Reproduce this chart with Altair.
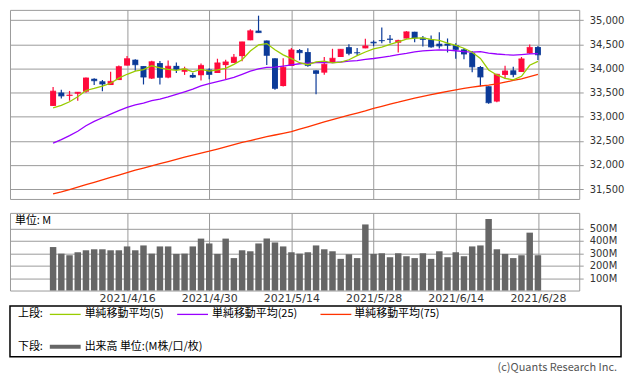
import altair as alt
import numpy as np
import pandas as pd

# ---------------- data ----------------
dates = [
    "2021/4/5", "2021/4/6", "2021/4/7", "2021/4/8", "2021/4/9",
    "2021/4/12", "2021/4/13", "2021/4/14", "2021/4/15", "2021/4/16",
    "2021/4/19", "2021/4/20", "2021/4/21", "2021/4/22", "2021/4/23",
    "2021/4/26", "2021/4/27", "2021/4/28", "2021/4/29", "2021/4/30",
    "2021/5/3", "2021/5/4", "2021/5/5", "2021/5/6", "2021/5/7",
    "2021/5/10", "2021/5/11", "2021/5/12", "2021/5/13", "2021/5/14",
    "2021/5/17", "2021/5/18", "2021/5/19", "2021/5/20", "2021/5/21",
    "2021/5/24", "2021/5/25", "2021/5/26", "2021/5/27", "2021/5/28",
    "2021/6/1", "2021/6/2", "2021/6/3", "2021/6/4", "2021/6/7",
    "2021/6/8", "2021/6/9", "2021/6/10", "2021/6/11", "2021/6/14",
    "2021/6/15", "2021/6/16", "2021/6/17", "2021/6/18", "2021/6/21",
    "2021/6/22", "2021/6/23", "2021/6/24", "2021/6/25", "2021/6/28",
]

open_ = [
    33222, 33500, 33430, 33475, 33517, 33785, 33733, 33655, 33758, 34058,
    34180, 34048, 33789, 34110, 33809, 34052, 33930, 33864, 33858, 33976,
    33904, 34068, 34114, 34254, 34582, 34782, 34580, 34209, 33634, 34050,
    34380, 34338, 33960, 33912, 34117, 34236, 34440, 34330, 34415, 34552,
    34584, 34614, 34531, 34618, 34759, 34635, 34600, 34511, 34512, 34483,
    34394, 34325, 34029, 33630, 33313, 33864, 33960, 33926, 34311, 34442,
]
high = [
    33617, 33555, 33533, 33510, 33810, 33795, 33758, 33928, 34061, 34256,
    34190, 34048, 34158, 34153, 34164, 34120, 34035, 33910, 34100, 34002,
    34200, 34180, 34300, 34552, 34811, 35092, 34580, 34209, 34211, 34423,
    34400, 34418, 33960, 34235, 34406, 34400, 34500, 34420, 34612, 34580,
    34849, 34690, 34593, 34772, 34759, 34670, 34680, 34748, 34620, 34522,
    34420, 34360, 34050, 33630, 33891, 34054, 34033, 34236, 34493, 34462,
]
low = [
    33222, 33375, 33330, 33330, 33496, 33657, 33528, 33655, 33758, 34058,
    33950, 33667, 33780, 33668, 33795, 33905, 33865, 33800, 33750, 33774,
    33904, 33774, 34114, 34150, 34582, 34740, 34070, 33560, 33623, 34050,
    34170, 34034, 33464, 33870, 34117, 34236, 34270, 34274, 34415, 34460,
    34520, 34522, 34329, 34618, 34544, 34452, 34430, 34412, 34330, 34202,
    34190, 33920, 33628, 33270, 33300, 33780, 33817, 33926, 34300, 34175,
]
close = [
    33527, 33430, 33446, 33504, 33801, 33746, 33677, 33730, 34036, 34200,
    34078, 33821, 34137, 33815, 34043, 33982, 33984, 33820, 34060, 33875,
    34113, 34133, 34230, 34548, 34778, 34743, 34270, 33587, 34021, 34382,
    34327, 34061, 33896, 34084, 34208, 34394, 34312, 34323, 34465, 34529,
    34575, 34600, 34577, 34756, 34630, 34600, 34447, 34466, 34480, 34394,
    34299, 34033, 33823, 33290, 33876, 33945, 33874, 34196, 34433, 34283,
]
volume = [
    350, 297, 284, 308, 324, 332, 332, 324, 324, 355,
    324, 363, 297, 355, 355, 295, 297, 355, 418, 379,
    295, 418, 261, 324, 316, 379, 418, 387, 355, 308,
    297, 308, 363, 332, 316, 255, 292, 261, 532, 295,
    300, 268, 300, 276, 261, 300, 255, 316, 268, 308,
    276, 355, 363, 576, 332, 295, 261, 284, 466, 284,
]
ma5 = [
    33180, 33232, 33308, 33412, 33542, 33585, 33635, 33692, 33798, 33878,
    33944, 33973, 34054, 34010, 33979, 33960, 33992, 33929, 33978, 33944,
    33970, 34000, 34082, 34180, 34360, 34486, 34514, 34385, 34280, 34201,
    34117, 34076, 34137, 34150, 34115, 34129, 34179, 34264, 34340, 34405,
    34441, 34498, 34549, 34607, 34628, 34633, 34602, 34580, 34525, 34477,
    34417, 34334, 34206, 33968, 33864, 33793, 33762, 33836, 34065, 34146,
]
ma25 = [
    32450, 32526, 32608, 32698, 32813, 32903, 32978, 33054, 33123, 33192,
    33244, 33279, 33331, 33363, 33410, 33464, 33515, 33570, 33636, 33686,
    33728, 33766, 33813, 33876, 33941, 33989, 34023, 34028, 34049, 34072,
    34096, 34111, 34118, 34120, 34120, 34132, 34152, 34160, 34186, 34205,
    34229, 34253, 34284, 34311, 34342, 34361, 34374, 34383, 34380, 34365,
    34347, 34338, 34347, 34318, 34298, 34283, 34275, 34287, 34301, 34304,
]
ma75 = [
    31398, 31440, 31490, 31540, 31590, 31640, 31690, 31740, 31790, 31840,
    31890, 31935, 31980, 32025, 32070, 32115, 32160, 32205, 32245, 32285,
    32330, 32375, 32420, 32465, 32505, 32545, 32585, 32620, 32655, 32690,
    32740, 32790, 32840, 32890, 32940, 32985, 33030, 33075, 33120, 33170,
    33215, 33260, 33300, 33345, 33385, 33420, 33455, 33490, 33525, 33555,
    33585, 33610, 33635, 33655, 33680, 33715, 33750, 33785, 33830, 33875,
]

tick_idx = [9, 19, 29, 39, 49, 59]
price_ticks = [31500, 32000, 32500, 33000, 33500, 34000, 34500, 35000]
vol_ticks = [100, 200, 300, 400, 500]

row_titles = ["上段:", "下段:"]
ma_labels = ["単純移動平均(5)", "単純移動平均(25)", "単純移動平均(75)"]
vol_label = "出来高 単位:(M株/口/枚)"
unit_label = "単位: M"
credit = "(c)Quants Research Inc."

# ---------------- styles ----------------
RED = "#ff0a3c"
BLUE = "#0b3a98"
C5, C25, C75 = "#99cc00", "#9900ff", "#ff3300"
GRID = "#9a9a9a"
FONT = "DejaVu Sans"
JP = "Noto Sans CJK JP"

df = pd.DataFrame({
    "idx": np.arange(len(dates)), "date": dates,
    "open": open_, "high": high, "low": low, "close": close,
    "volume": volume, "ma5": ma5, "ma25": ma25, "ma75": ma75,
})
df["dir"] = np.where(df["close"] >= df["open"], "up", "down")

xscale = alt.Scale(domain=[-4.64, 63.42], nice=False, zero=False)
yscale = alt.Scale(domain=[31295, 35212], nice=False, zero=False)

x_top = alt.X("idx:Q", scale=xscale,
              axis=alt.Axis(values=tick_idx, labels=False, ticks=False, domain=False,
                            grid=True, gridColor=GRID, gridOpacity=1, title=None))
y_axis = alt.Axis(orient="right", values=price_ticks,
                  labelExpr="format(datum.value, ',')", grid=True,
                  gridColor=GRID, gridOpacity=1, tickColor=GRID, tickSize=4, domain=False,
                  labelFont=FONT, labelFontSize=10, labelColor="#333", labelPadding=6,
                  title=None)
color = alt.Color("dir:N", scale=alt.Scale(domain=["up", "down"], range=[RED, BLUE]),
                  legend=None)

base = alt.Chart(df)
wick = base.mark_rule(strokeWidth=1.2).encode(
    x=x_top, y=alt.Y("low:Q", scale=yscale, axis=y_axis), y2="high:Q", color=color)
body = base.mark_bar(size=6).encode(
    x=x_top, y=alt.Y("open:Q", scale=yscale, axis=y_axis), y2="close:Q", color=color)
doji = base.mark_tick(orient="horizontal", size=6, thickness=1.2).encode(
    x=x_top, y=alt.Y("close:Q", scale=yscale, axis=y_axis), color=color)


def ma_line(field, col):
    return base.mark_line(color=col, strokeWidth=1.3).encode(
        x=x_top, y=alt.Y(f"{field}:Q", scale=yscale, axis=y_axis))


top = alt.layer(wick, body, doji, ma_line("ma75", C75), ma_line("ma25", C25),
                ma_line("ma5", C5)).properties(width=572, height=190)

# ---------------- lower panel ----------------
label_expr = "[" + ",".join(f"'{d}'" for d in dates) + "][datum.value]"
x_bot = alt.X("idx:Q", scale=xscale,
              axis=alt.Axis(values=tick_idx, labelExpr=label_expr, ticks=False, domain=False,
                            grid=True, gridColor=GRID, gridOpacity=1, labelFont=FONT,
                            labelFontSize=11, labelColor="#333", labelPadding=2,
                            labelOverlap=False, labelFlush=False, title=None))
vol_axis = alt.Axis(orient="right", values=vol_ticks, labelExpr="datum.value + 'M'",
                    grid=True, gridColor=GRID, gridOpacity=1, tickColor=GRID, tickSize=4,
                    domain=False, labelFont=FONT, labelFontSize=10, labelColor="#333",
                    labelPadding=6, title=None)
bars = base.mark_bar(size=6.5, color="#666666").encode(
    x=x_bot, y=alt.Y("volume:Q", scale=alt.Scale(domain=[0, 625], nice=False), axis=vol_axis))


def one(v):
    return alt.Chart(pd.DataFrame({"t": [v]}))


def text(v, x, y, font=JP, size=11, col="#000", align="left"):
    return one(v).mark_text(align=align, baseline="middle", font=font, fontSize=size,
                            color=col).encode(text="t:N", x=alt.value(x), y=alt.value(y))


def seg(x1, x2, y, col, w):
    return one("").mark_rule(color=col, strokeWidth=w).encode(
        x=alt.value(x1), x2=alt.value(x2), y=alt.value(y))


R1, R2 = 102, 134.5
legend_layers = [
    one("").mark_rect(fillOpacity=0, stroke="#000", strokeWidth=1.5).encode(
        x=alt.value(0), x2=alt.value(614), y=alt.value(93.5), y2=alt.value(144.5)),
    text(row_titles[0], 8, R1),
    seg(40, 71, R1, C5, 1.3), text(ma_labels[0], 75, R1),
    seg(168, 199, R1, C25, 1.3), text(ma_labels[1], 203, R1),
    seg(312, 343, R1, C75, 1.3), text(ma_labels[2], 346, R1),
    text(row_titles[1], 8, R2),
    seg(40, 71, R2, "#666666", 4), text(vol_label, 75, R2),
    text(credit, 610, 156, col="#555", align="right"),
    text(unit_label, 5, 8),
]

lower = alt.layer(bars, *legend_layers).properties(width=572, height=78)

chart = (
    alt.vconcat(top, lower, spacing=12)
    .properties(padding=0)
    .configure_view(stroke=GRID, strokeWidth=1)
)

chart.save("out.html", embed_options={"renderer": "svg", "actions": False})
